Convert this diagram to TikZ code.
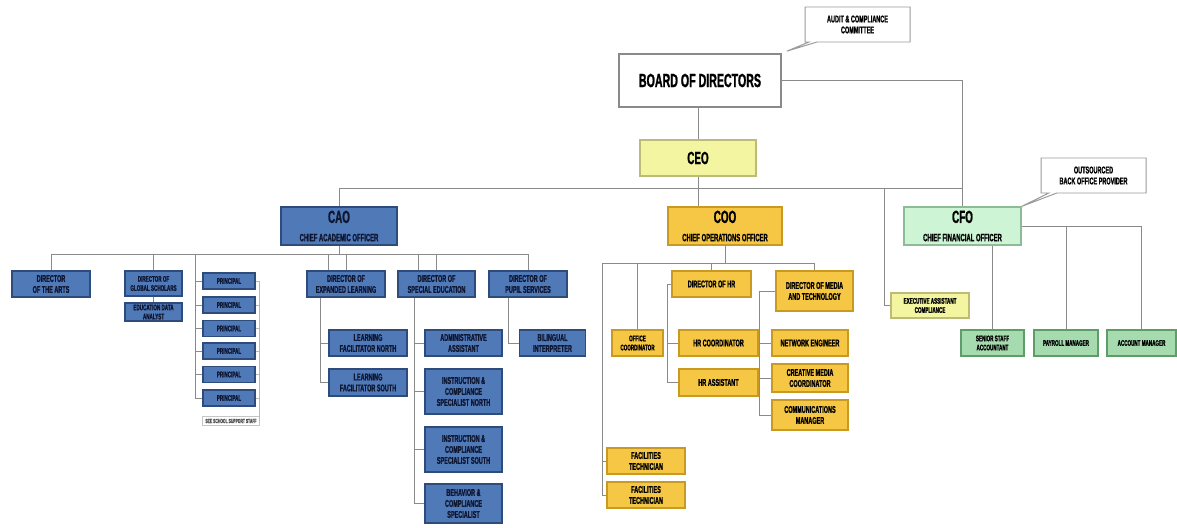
\documentclass[tikz,border=0pt]{standalone}
\usepackage{fontspec}
\setmainfont[FakeStretch=0.56, BoldFeatures={FakeBold=1.2}]{Liberation Sans}
\usetikzlibrary{positioning, calc, shapes.callouts}
\definecolor{cblue}{HTML}{5079B8}
\definecolor{cblueline}{HTML}{2D4C7C}
\definecolor{cnavy}{HTML}{0E1630}
\definecolor{cgold}{HTML}{F6C744}
\definecolor{cgoldline}{HTML}{C99A22}
\definecolor{cmint}{HTML}{CCF4D5}
\definecolor{cmintline}{HTML}{8DBB96}
\definecolor{cgreen}{HTML}{A5DBAE}
\definecolor{cgreenline}{HTML}{5E9D69}
\definecolor{clemon}{HTML}{F3F5A0}
\definecolor{clemonline}{HTML}{BDBB78}
\definecolor{clink}{HTML}{8A8A8A}
\definecolor{cnote}{HTML}{9A9A9A}
\tikzset{
  every picture/.style={x=0.025cm, y=-0.025cm},
  link/.style={draw=clink, line width=0.7pt},
  org/.style 2 args={draw, align=center, inner sep=1pt, line width=0.8pt,
    minimum width=#1*0.025cm, minimum height=#2*0.025cm,
    font=\bfseries\fontsize{7}{7.8}\selectfont},
  acad/.style={draw=cblueline, fill=cblue, text=cnavy},
  ops/.style={draw=cgoldline, fill=cgold},
  fin/.style={draw=cgreenline, fill=cgreen},
  small/.style={font=\bfseries\fontsize{5.8}{6.5}\selectfont},
  head/.style={font=\bfseries\fontsize{12.5}{13}\selectfont},
  note/.style={draw=cnote, fill=white, rectangle callout, callout pointer width=0.2cm,
    line width=0.7pt},
}
\newcommand{\subline}[1]{{\fontsize{7.5}{8}\selectfont #1}}

\begin{document}
\begin{tikzpicture}
  \useasboundingbox (0,0) rectangle (1177,527);
  % top of the chart
  \node[org={162}{53}, draw=clink, line width=1.2pt, fill=white,
    font=\bfseries\fontsize{13.5}{14}\selectfont] (board) at (700,80.5) {BOARD OF DIRECTORS};
  \node[org={105}{35}, note, callout absolute pointer={($(board.north east)+(5,-2)$)}]
    (audit) at (857.5,24.5) {AUDIT \& COMPLIANCE\\COMMITTEE};
  \node[org={116}{36}, draw=clemonline, fill=clemon, head] (ceo) at (698,158) {CEO};

  % chiefs
  \node[org={116}{38}, acad, head] (cao) at (339,226) {CAO\\\subline{CHIEF ACADEMIC OFFICER}};
  \node[org={114}{38}, ops, head] (coo) at (725,226) {COO\\\subline{CHIEF OPERATIONS OFFICER}};
  \node[org={117}{38}, draw=cmintline, fill=cmint, head] (cfo) at (962.5,226)
    {CFO\\\subline{CHIEF FINANCIAL OFFICER}};
  \node[org={105}{35}, note, callout absolute pointer={(cfo.north east)}]
    (backoffice) at (1093.5,175.5) {OUTSOURCED\\BACK OFFICE PROVIDER};
  \node[org={78}{25}, draw=clemonline, fill=clemon, small] (execasst) at (930,305.5)
    {EXECUTIVE ASSISTANT\\COMPLIANCE};

  % academic side
  \node[org={78}{26}, acad] (arts) at (51,284) {DIRECTOR\\OF THE ARTS};
  \node[org={57}{25}, acad, small] (globalsch) at (153.5,283.5) {DIRECTOR OF\\GLOBAL SCHOLARS};
  \node[org={57}{18}, acad, small] (dataanalyst) at (153.5,312) {EDUCATION DATA\\ANALYST};
  \node[org={52}{16}, acad, small] (prin1) at (229,281) {PRINCIPAL};
  \node[org={52}{16}, acad, small] (prin2) at (229,305) {PRINCIPAL};
  \node[org={52}{16}, acad, small] (prin3) at (229,328.5) {PRINCIPAL};
  \node[org={52}{16}, acad, small] (prin4) at (229,351) {PRINCIPAL};
  \node[org={52}{16}, acad, small] (prin5) at (229,374.5) {PRINCIPAL};
  \node[org={52}{16}, acad, small] (prin6) at (229,398) {PRINCIPAL};
  \node[org={57}{9}, draw=clink!50, line width=0.5pt, text=black!70,
    font=\bfseries\fontsize{4.3}{4.8}\selectfont] (seenote) at (231,421) {SEE SCHOOL SUPPORT STAFF};
  \node[org={78}{26}, acad] (explearn) at (346,284) {DIRECTOR OF\\EXPANDED LEARNING};
  \node[org={77}{26}, acad] (speced) at (436.5,284) {DIRECTOR OF\\SPECIAL EDUCATION};
  \node[org={78}{26}, acad] (pupil) at (528,284) {DIRECTOR OF\\PUPIL SERVICES};
  \node[org={78}{26}, acad] (lfnorth) at (368,343) {LEARNING\\FACILITATOR NORTH};
  \node[org={78}{27}, acad] (lfsouth) at (368,382.5) {LEARNING\\FACILITATOR SOUTH};
  \node[org={77}{26}, acad] (adminasst) at (463.5,343) {ADMINISTRATIVE\\ASSISTANT};
  \node[org={77}{45}, acad] (icnorth) at (463.5,391.5) {INSTRUCTION \&\\COMPLIANCE\\SPECIALIST NORTH};
  \node[org={77}{45}, acad] (icsouth) at (463.5,449.5) {INSTRUCTION \&\\COMPLIANCE\\SPECIALIST SOUTH};
  \node[org={77}{39}, acad] (behavior) at (463.5,503.5) {BEHAVIOR \&\\COMPLIANCE\\SPECIALIST};
  \node[org={66}{26}, acad] (bilingual) at (552.5,343) {BILINGUAL\\INTERPRETER};

  % operations side
  \node[org={51}{26}, ops, small] (officecoord) at (637.5,343) {OFFICE\\COORDINATOR};
  \node[org={79}{26}, ops] (dirhr) at (711.5,284) {DIRECTOR OF HR};
  \node[org={79}{26}, ops] (hrcoord) at (718.5,343) {HR COORDINATOR};
  \node[org={79}{27}, ops] (hrasst) at (718.5,382.5) {HR ASSISTANT};
  \node[org={77}{40}, ops] (dirmedia) at (814.5,291) {DIRECTOR OF MEDIA\\AND TECHNOLOGY};
  \node[org={76}{26}, ops] (neteng) at (810,343) {NETWORK ENGINEER};
  \node[org={76}{28}, ops] (creative) at (810,378) {CREATIVE MEDIA\\COORDINATOR};
  \node[org={76}{30}, ops] (comms) at (810,415) {COMMUNICATIONS\\MANAGER};
  \node[org={78}{26}, ops] (fac1) at (646,461) {FACILITIES\\TECHNICIAN};
  \node[org={78}{26}, ops] (fac2) at (646,495) {FACILITIES\\TECHNICIAN};

  % finance side
  \node[org={63}{26}, fin, small] (senior) at (992.5,343) {SENIOR STAFF\\ACCOUNTANT};
  \node[org={64}{26}, fin, small] (payroll) at (1066,343) {PAYROLL MANAGER};
  \node[org={69}{26}, fin, small] (account) at (1141.5,343) {ACCOUNT MANAGER};

  % board, CEO and chiefs
  \draw[link] (board.south -| ceo.north) -- (ceo.north);
  \draw[link] (board.east) -| (cfo.north);
  \coordinate (ceobus) at (698,188);
  \draw[link] (ceo.south) -- (ceo.south |- coo.north);
  \draw[link] (cao.north) |- (cfo.north |- ceobus);
  \coordinate (eatap) at (884,188);
  \draw[link] (eatap) |- (execasst.west);

  % academic links
  \coordinate (caobus) at (339,254);
  \draw[link] (cao.south) -- (caobus);
  \draw[link] (arts.north) |- (pupil.north |- caobus) -- (pupil.north);
  \draw[link] (globalsch.north) -- (globalsch.north |- caobus);
  \draw[link] (globalsch.south) -- (dataanalyst.north);
  \draw[link] (explearn.north) -- (explearn.north |- caobus);
  \draw[link] ($(explearn.north)+(-18,0)$) -- ($(explearn.north |- caobus)+(-18,0)$);
  \draw[link] (speced.north) -- (speced.north |- caobus);
  \draw[link] ($(speced.north)+(-18,0)$) -- ($(speced.north |- caobus)+(-18,0)$);
  \coordinate (prinspine) at (195,254);
  \draw[link] (prinspine) |- (prin6.west);
  \draw[link] (prin1.west) -- (prin1.west -| prinspine);
  \draw[link] (prin2.west) -- (prin2.west -| prinspine);
  \draw[link] (prin3.west) -- (prin3.west -| prinspine);
  \draw[link] (prin4.west) -- (prin4.west -| prinspine);
  \draw[link] (prin5.west) -- (prin5.west -| prinspine);
  \draw[link, draw=clink!60] (prin1.east) -| (seenote.east);
  \draw[link, draw=clink!60] (prin2.east) -- (prin2.east -| seenote.east);
  \draw[link, draw=clink!60] (prin3.east) -- (prin3.east -| seenote.east);
  \draw[link, draw=clink!60] (prin4.east) -- (prin4.east -| seenote.east);
  \draw[link, draw=clink!60] (prin5.east) -- (prin5.east -| seenote.east);
  \draw[link, draw=clink!60] (prin6.east) -- (prin6.east -| seenote.east);
  \coordinate (elspine) at ($(explearn.south)+(-26,0)$);
  \draw[link] (elspine) |- (lfsouth.west);
  \draw[link] (lfnorth.west) -- (lfnorth.west -| elspine);
  \coordinate (sespine) at ($(speced.south)+(-22.5,0)$);
  \draw[link] (sespine) |- (behavior.west);
  \draw[link] (adminasst.west) -- (adminasst.west -| sespine);
  \draw[link] (icnorth.west) -- (icnorth.west -| sespine);
  \draw[link] (icsouth.west) -- (icsouth.west -| sespine);
  \coordinate (psspine) at ($(pupil.south)+(-20,0)$);
  \draw[link] (psspine) |- (bilingual.west);

  % operations links
  \coordinate (coobus) at (725,263);
  \draw[link] (coo.south) -- (coobus);
  \coordinate (facspine) at (602,263);
  \draw[link] (facspine) -| (dirmedia.north);
  \draw[link] (facspine) |- (fac2.west);
  \draw[link] (fac1.west) -- (fac1.west -| facspine);
  \draw[link] (officecoord.north) -- (officecoord.north |- coobus);
  \draw[link] (dirhr.north) -- (dirhr.north |- coobus);
  \coordinate (hrspine) at ($(dirhr.west)+(-4,0)$);
  \draw[link] (dirhr.west) -- (hrspine) |- (hrasst.west);
  \draw[link] (hrcoord.west) -- (hrcoord.west -| hrspine);
  \coordinate (mtspine) at ($(dirmedia.west)+(-16,0)$);
  \draw[link] (dirmedia.west) -- (mtspine) |- (comms.west);
  \draw[link] (neteng.west) -- (neteng.west -| mtspine);
  \draw[link] (creative.west) -- (creative.west -| mtspine);

  % finance links
  \draw[link] (cfo.east) -| (account.north);
  \draw[link] (payroll.north) -- (payroll.north |- cfo.east);
  \draw[link] (cfo.south -| senior.north) -- (senior.north);
\end{tikzpicture}
\end{document}
